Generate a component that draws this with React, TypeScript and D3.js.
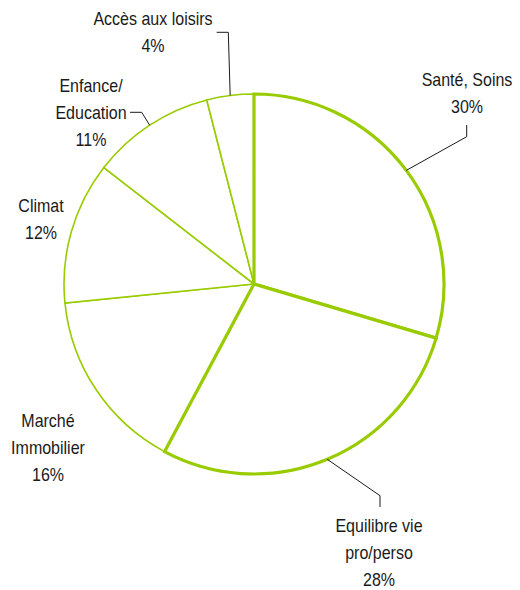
import React from "react";
import * as d3 from "d3";

const categories = ["Santé, Soins", "Equilibre vie pro/perso", "Marché Immobilier", "Climat", "Enfance/ Education", "Accès aux loisirs"];
const values = [29.6, 28.2, 15.6, 12.1, 10.5, 4.0];
const labelLines = [
  ["Santé, Soins"],
  ["Equilibre vie", "pro/perso"],
  ["Marché", "Immobilier"],
  ["Climat"],
  ["Enfance/", "Education"],
  ["Accès aux loisirs"],
];

// layout (not data)
const W = 520, H = 590;
const CX = 254, CY = 284, R = 190;
const GREEN = "#99cc00";
const thick = [true, true, false, false, false, false];
const labelPos = [
  { x: 467, y: 86 },
  { x: 379, y: 531.5 },
  { x: 48, y: 426.5 },
  { x: 41, y: 212 },
  { x: 91, y: 91.5 },
  { x: 153, y: 25 },
];
const LINE_H = 27.2;
// leader elbows: [elbow, end] or null
const leaders: ([number, number][] | null)[] = [
  [[466.7, 136.7], [466.7, 125]],
  [[380, 495.7], [380, 507]],
  null,
  null,
  [[141.7, 112.3], [130, 112.3]],
  [[228.3, 32.3], [216.7, 32.3]],
];

export default function App() {
  const pie = d3.pie<number>().sort(null).value((d) => d).startAngle(0).endAngle(2 * Math.PI);
  const arcs = pie(values);
  const arcGen = d3.arc<d3.PieArcDatum<number>>().innerRadius(0).outerRadius(R);
  const order = arcs.map((a, i) => i).sort((a, b) => Number(thick[a]) - Number(thick[b]));

  return (
    <svg width={W} height={H} style={{ position: "absolute", left: 0, top: 0, background: "#fff" }}>
      <g transform={`translate(${CX},${CY})`}>
        {order.map((i) => (
          <path
            key={i}
            d={arcGen(arcs[i]) || ""}
            fill="#fff"
            stroke={GREEN}
            strokeWidth={thick[i] ? 3.2 : 1.6}
            strokeLinejoin="miter"
          />
        ))}
      </g>
      {arcs.map((a, i) => {
        const l = leaders[i];
        if (!l) return null;
        const mid = (a.startAngle + a.endAngle) / 2;
        const sx = CX + R * Math.sin(mid);
        const sy = CY - R * Math.cos(mid);
        const pts: [number, number][] = [[sx, sy], ...l];
        return (
          <path
            key={"l" + i}
            d={d3.line()(pts) || ""}
            fill="none"
            stroke="#1a1a1a"
            strokeWidth={1}
          />
        );
      })}
      {arcs.map((a, i) => {
        const lines = [...labelLines[i], `${Math.round(values[i])}%`];
        return (
          <g key={"t" + i}>
            {lines.map((s, k) => (
              <text
                key={k}
                transform={`translate(${labelPos[i].x},${labelPos[i].y + k * LINE_H}) scale(0.89,1)`}
                textAnchor="middle"
                fontFamily="'Liberation Sans', Arial, sans-serif"
                fontSize={18}
                fill="#1a1a1a"
              >
                {s}
              </text>
            ))}
          </g>
        );
      })}
    </svg>
  );
}
